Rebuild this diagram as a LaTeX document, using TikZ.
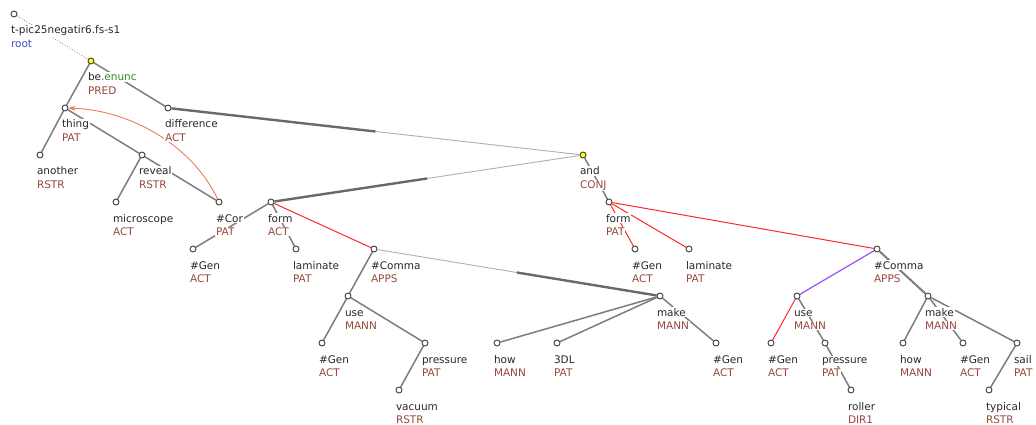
\documentclass[tikz,border=0pt]{standalone}
\usepackage{fontspec}
\setmainfont{DejaVu Sans}
\usetikzlibrary{calc,arrows.meta}
\definecolor{rolec}{RGB}{150,72,62}
\definecolor{namec}{RGB}{40,40,40}
\definecolor{rootc}{RGB}{70,70,200}
\definecolor{enuncc}{RGB}{40,140,40}
\definecolor{edgec}{RGB}{125,125,125}
\definecolor{thinc}{RGB}{175,175,175}
\definecolor{thickc}{RGB}{105,105,105}
\definecolor{redc}{RGB}{255,40,40}
\definecolor{purplec}{RGB}{150,80,255}
\definecolor{corefc}{RGB}{235,125,90}
\definecolor{yel}{RGB}{255,255,0}
\newcommand{\tlab}[3]{%
  \node[nm] (#1-n) at ($(#1)+(-4,20)$) {#2};
  \node[rl] (#1-r) at ($(#1)+(-4,33.5)$) {#3};}
\begin{document}
\begin{tikzpicture}[x=1pt,y=-1pt,
  font=\fontsize{10.5}{12}\selectfont,
  tn/.style={circle,minimum size=6pt,inner sep=0pt,draw=black!75,line width=0.9pt,fill=white},
  yn/.style={tn,fill=yel},
  nm/.style={anchor=base west,inner sep=0.8pt,fill=white,text=namec},
  rl/.style={anchor=base west,inner sep=0.8pt,fill=white,text=rolec},
  ed/.style={draw=edgec,line width=1.5pt},
  rd/.style={draw=redc,line width=1pt},
  pu/.style={draw=purplec,line width=1.2pt},
  thn/.style={draw=thinc,line width=0.9pt},
  thk/.style={draw=thickc,line width=2.4pt},
  coref/.style={draw=corefc,line width=0.9pt,-{Stealth[length=7pt,width=5pt]}},
  rootedge/.style={draw=black!50,line width=0.8pt,dotted}
]
\useasboundingbox (0,0) rectangle (1036,425);
% tree nodes
\node[tn] (root) at (14,14) {};
\node[yn] (be) at (91,61) {};
\node[tn] (thing) at (65,108) {};
\node[tn] (diff) at (168,108) {};
\node[tn] (another) at (40,155) {};
\node[tn] (reveal) at (142,155) {};
\node[tn] (micro) at (116,202) {};
\node[tn] (cor) at (219,202) {};
\node[tn] (formA) at (271,202) {};
\node[yn] (and) at (583,155) {};
\node[tn] (genA) at (193,249) {};
\node[tn] (lamA) at (296,249) {};
\node[tn] (commaA) at (374,249) {};
\node[tn] (useA) at (348,296) {};
\node[tn] (genB) at (322,343) {};
\node[tn] (pressA) at (425,343) {};
\node[tn] (vacuum) at (399,390) {};
\node[tn] (howA) at (497,343) {};
\node[tn] (dl) at (557,343) {};
\node[tn] (makeA) at (660,296) {};
\node[tn] (genC) at (716,343) {};
\node[tn] (formB) at (609,202) {};
\node[tn] (genD) at (635,249) {};
\node[tn] (lamB) at (689,249) {};
\node[tn] (commaB) at (877,249) {};
\node[tn] (useB) at (797,296) {};
\node[tn] (genE) at (771,343) {};
\node[tn] (pressB) at (825,343) {};
\node[tn] (roller) at (851,390) {};
\node[tn] (makeB) at (928,296) {};
\node[tn] (howB) at (903,343) {};
\node[tn] (genF) at (963,343) {};
\node[tn] (sail) at (1017,343) {};
\node[tn] (typical) at (989,390) {};
% edges
\draw[rootedge] (root) -- (be);
\draw[ed] (be) -- (thing);
\draw[ed] (be) -- (diff);
\draw[ed] (thing) -- (another);
\draw[ed] (thing) -- (reveal);
\draw[ed] (reveal) -- (micro);
\draw[ed] (reveal) -- (cor);
\draw[thn] (and) -- ($(and)!.5!(diff)$);
\draw[thk] ($(and)!.5!(diff)$) -- (diff);
\draw[thn] (and) -- ($(and)!.5!(formA)$);
\draw[thk] ($(and)!.5!(formA)$) -- (formA);
\draw[ed] (formA) -- (genA);
\draw[ed] (formA) -- (lamA);
\draw[rd] (formA) -- (commaA);
\draw[ed] (commaA) -- (useA);
\draw[thn] (commaA) -- ($(commaA)!.5!(makeA)$);
\draw[thk] ($(commaA)!.5!(makeA)$) -- (makeA);
\draw[ed] (useA) -- (genB);
\draw[ed] (useA) -- (pressA);
\draw[ed] (pressA) -- (vacuum);
\draw[ed] (makeA) -- (howA);
\draw[ed] (makeA) -- (dl);
\draw[ed] (makeA) -- (genC);
\draw[ed] (and) -- (formB);
\draw[rd] (formB) -- (genD);
\draw[rd] (formB) -- (lamB);
\draw[rd] (formB) -- (commaB);
\draw[pu] (commaB) -- (useB);
\draw[rd] (useB) -- (genE);
\draw[ed] (useB) -- (pressB);
\draw[ed] (pressB) -- (roller);
\draw[ed,line width=2pt] (commaB) -- (makeB);
\draw[ed] (makeB) -- (howB);
\draw[ed] (makeB) -- (genF);
\draw[ed] (makeB) -- (sail);
\draw[ed] (sail) -- (typical);
\draw[coref] (cor) .. controls (192,145) and (130,110) .. (thing);
% labels
\tlab{root}{t-pic25negatir6.fs-s1}{\textcolor{rootc}{root}}
\tlab{be}{be\textcolor{enuncc}{.enunc}}{PRED}
\tlab{thing}{thing}{PAT}
\tlab{diff}{difference}{ACT}
\tlab{another}{another}{RSTR}
\tlab{reveal}{reveal}{RSTR}
\tlab{micro}{microscope}{ACT}
\tlab{cor}{\#Cor}{PAT}
\tlab{formA}{form}{ACT}
\tlab{and}{and}{CONJ}
\tlab{genA}{\#Gen}{ACT}
\tlab{lamA}{laminate}{PAT}
\tlab{commaA}{\#Comma}{APPS}
\tlab{useA}{use}{MANN}
\tlab{genB}{\#Gen}{ACT}
\tlab{pressA}{pressure}{PAT}
\tlab{vacuum}{vacuum}{RSTR}
\tlab{howA}{how}{MANN}
\tlab{dl}{3DL}{PAT}
\tlab{makeA}{make}{MANN}
\tlab{genC}{\#Gen}{ACT}
\tlab{formB}{form}{PAT}
\tlab{genD}{\#Gen}{ACT}
\tlab{lamB}{laminate}{PAT}
\tlab{commaB}{\#Comma}{APPS}
\tlab{useB}{use}{MANN}
\tlab{genE}{\#Gen}{ACT}
\tlab{pressB}{pressure}{PAT}
\tlab{roller}{roller}{DIR1}
\tlab{makeB}{make}{MANN}
\tlab{howB}{how}{MANN}
\tlab{genF}{\#Gen}{ACT}
\tlab{sail}{sail}{PAT}
\tlab{typical}{typical}{RSTR}
\end{tikzpicture}
\end{document}
